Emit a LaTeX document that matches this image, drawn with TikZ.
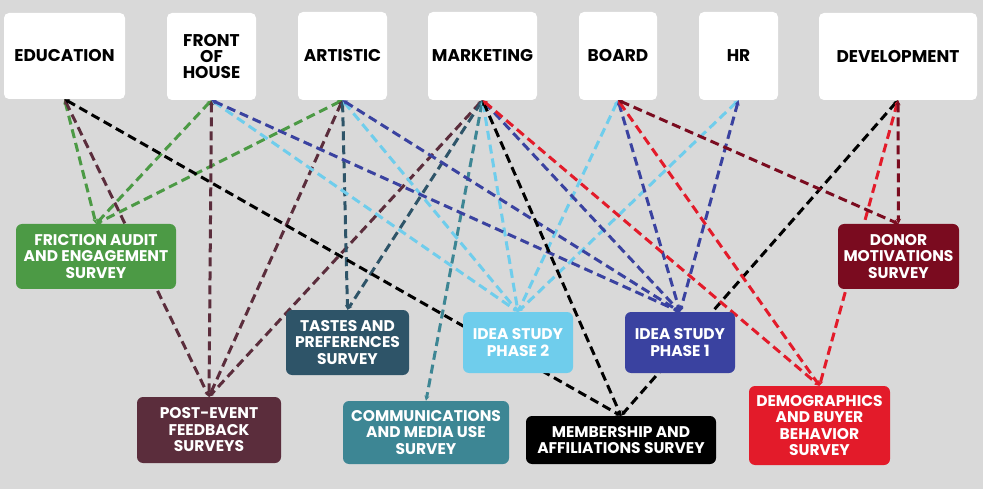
\documentclass[tikz,border=0pt]{standalone}
\usepackage{fontspec}
\setmainfont{Poppins}
\usetikzlibrary{arrows.meta}
\definecolor{bgc}{HTML}{D9D9D9}
\definecolor{cgreen}{HTML}{4C9A45}
\definecolor{cpost}{HTML}{5B2D3C}
\definecolor{ctaste}{HTML}{2E5468}
\definecolor{ccomm}{HTML}{3D8694}
\definecolor{cideatwo}{HTML}{6FCDEC}
\definecolor{cideaone}{HTML}{3A42A0}
\definecolor{cmemb}{HTML}{000000}
\definecolor{cdemo}{HTML}{E31B2A}
\definecolor{cdonor}{HTML}{7A0B1F}
\pgfdeclarelayer{bg}
\pgfdeclarelayer{edges}
\pgfsetlayers{bg,edges,main}
\tikzset{
  dept/.style={fill=white, rounded corners=5pt, inner sep=0pt, align=center,
    font=\fontsize{17}{16}\selectfont\bfseries, text=black},
  survey/.style={fill=#1, rounded corners=6pt, inner sep=0pt, align=center,
    font=\fontsize{15.5}{16.5}\selectfont\bfseries, text=white},
  link/.style={draw=#1, line width=3pt, dash pattern=on 9pt off 5pt,
    {Stealth[length=5pt,width=5pt]}-{Stealth[length=5pt,width=5pt]}}
}
\begin{document}
\begin{tikzpicture}[x=1pt,y=-1pt]
\begin{pgfonlayer}{bg}
\fill[bgc] (0,0) rectangle (983,489);
\end{pgfonlayer}
\useasboundingbox (0,0) rectangle (983,489);

% departments
\node[dept, minimum width=121pt, minimum height=86pt] (edu) at (64.5,56) {EDUCATION};
\node[dept, minimum width=89pt, minimum height=87pt] (foh) at (211.5,56.5) {FRONT\\OF\\HOUSE};
\node[dept, minimum width=89pt, minimum height=88pt] (art) at (342.5,56) {ARTISTIC};
\node[dept, minimum width=109pt, minimum height=88pt] (mkt) at (482.5,56) {MARKETING};
\node[dept, minimum width=78pt, minimum height=88pt] (brd) at (618,56) {BOARD};
\node[dept, minimum width=79pt, minimum height=88pt] (hr) at (738.5,56) {HR};
\node[dept, minimum width=158pt, minimum height=87pt] (dev) at (898,56.5) {DEVELOPMENT};

% surveys
\node[survey=cgreen, minimum width=160pt, minimum height=65pt] (fric) at (96,256.5) {FRICTION AUDIT\\AND ENGAGEMENT\\SURVEY};
\node[survey=cpost, minimum width=144pt, minimum height=66pt] (post) at (209,430) {POST-EVENT\\FEEDBACK\\SURVEYS};
\node[survey=ctaste, minimum width=123pt, minimum height=65pt] (taste) at (347.5,342.5) {TASTES AND\\PREFERENCES\\SURVEY};
\node[survey=ccomm, minimum width=166pt, minimum height=63pt] (comm) at (426,432.5) {COMMUNICATIONS\\AND MEDIA USE\\SURVEY};
\node[survey=cideatwo, minimum width=110pt, minimum height=61pt] (ideatwo) at (518,342.5) {IDEA STUDY\\PHASE 2};
\node[survey=cideaone, minimum width=110pt, minimum height=61pt] (ideaone) at (680,342.5) {IDEA STUDY\\PHASE 1};
\node[survey=cmemb, minimum width=190pt, minimum height=48pt] (memb) at (621,440) {MEMBERSHIP AND\\AFFILIATIONS SURVEY};
\node[survey=cdemo, minimum width=141pt, minimum height=79pt] (demo) at (819.5,425.5) {DEMOGRAPHICS\\AND BUYER\\BEHAVIOR\\SURVEY};
\node[survey=cdonor, minimum width=121pt, minimum height=65pt] (donor) at (898.5,256.5) {DONOR\\MOTIVATIONS\\SURVEY};

\begin{pgfonlayer}{edges}
% friction audit
\draw[link=cgreen] (edu.south) -- (fric.north);
\draw[link=cgreen] (foh.south) -- (fric.north);
\draw[link=cgreen] (art.south) -- (fric.north);
% post-event
\draw[link=cpost] (edu.south) -- (post.north);
\draw[link=cpost] (foh.south) -- (post.north);
\draw[link=cpost] (art.south) -- (post.north);
\draw[link=cpost] (mkt.south) -- (post.north);
% tastes
\draw[link=ctaste] (art.south) -- (taste.north);
\draw[link=ctaste] (mkt.south) -- (taste.north);
% communications
\draw[link=ccomm] (mkt.south) -- (comm.north);
% idea study 2
\draw[link=cideatwo] (foh.south) -- (ideatwo.north);
\draw[link=cideatwo] (art.south) -- (ideatwo.north);
\draw[link=cideatwo] (mkt.south) -- (ideatwo.north);
\draw[link=cideatwo] (brd.south) -- (ideatwo.north);
\draw[link=cideatwo] (hr.south) -- (ideatwo.north);
% idea study 1
\draw[link=cideaone] (foh.south) -- (ideaone.north);
\draw[link=cideaone] (art.south) -- (ideaone.north);
\draw[link=cideaone] (mkt.south) -- (ideaone.north);
\draw[link=cideaone] (brd.south) -- (ideaone.north);
\draw[link=cideaone] (hr.south) -- (ideaone.north);
% membership
\draw[link=cmemb] (edu.south) -- (memb.north);
\draw[link=cmemb] (mkt.south) -- (memb.north);
\draw[link=cmemb] (dev.south) -- (memb.north);
% demographics
\draw[link=cdemo] (mkt.south) -- (demo.north);
\draw[link=cdemo] (brd.south) -- (demo.north);
\draw[link=cdemo] (dev.south) -- (demo.north);
% donor
\draw[link=cdonor] (brd.south) -- (donor.north);
\draw[link=cdonor] (dev.south) -- (donor.north);
\end{pgfonlayer}
\end{tikzpicture}
\end{document}
